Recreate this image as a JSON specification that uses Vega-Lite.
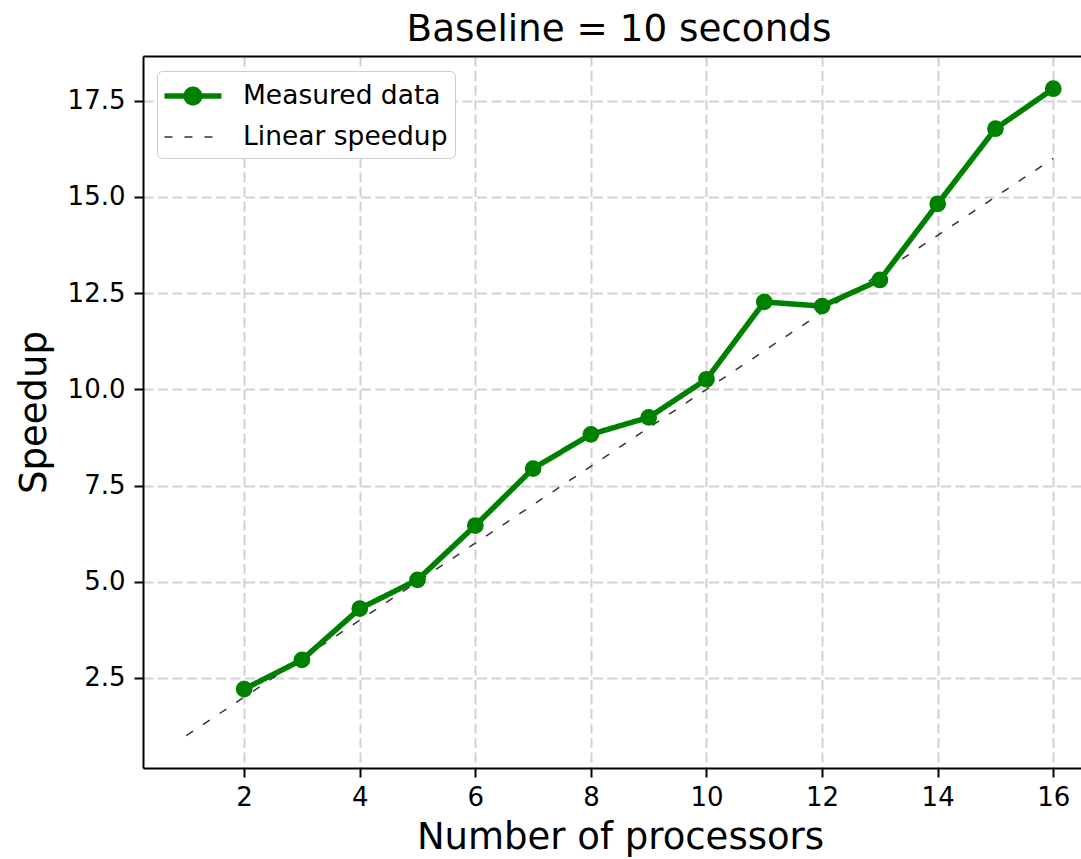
{
  "$schema": "https://vega.github.io/schema/vega-lite/v6.json",
  "width": 938,
  "height": 712,
  "autosize": {"type": "none"},
  "padding": {"left": 143, "top": 56, "right": 0, "bottom": 91},
  "background": "white",
  "title": {"text": "Baseline = 10 seconds", "fontSize": 37.3, "font": "DejaVu Sans", "fontWeight": "normal", "color": "black", "anchor": "middle", "dx": 7, "offset": 7},
  "config": {
    "view": {"stroke": null},
    "font": "DejaVu Sans",
    "axis": {
      "domainColor": "black", "domainWidth": 2,
      "tickColor": "black", "tickWidth": 2, "tickSize": 9,
      "labelFont": "DejaVu Sans", "labelFontSize": 26, "labelColor": "black", "labelPadding": 9,
      "titleFont": "DejaVu Sans", "titleFontSize": 37, "titleFontWeight": "normal", "titleColor": "black",
      "gridColor": "#d2d2d2", "gridDash": [10, 4.5], "gridWidth": 2
    },
    "legend": {
      "orient": "none", "legendX": 14, "legendY": 15,
      "fillColor": "white", "strokeColor": "#cccccc", "cornerRadius": 5,
      "padding": 7, "rowPadding": 7,
      "symbolSize": 900, "symbolOpacity": 1,
      "labelFont": "DejaVu Sans", "labelFontSize": 26.5, "labelColor": "black", "labelOffset": 43, "labelLimit": 400
    }
  },
  "datasets": {
    "measured": [
      {"processors": 2, "speedup": 2.21, "series": "Measured data"},
      {"processors": 3, "speedup": 2.97, "series": "Measured data"},
      {"processors": 4, "speedup": 4.30, "series": "Measured data"},
      {"processors": 5, "speedup": 5.05, "series": "Measured data"},
      {"processors": 6, "speedup": 6.46, "series": "Measured data"},
      {"processors": 7, "speedup": 7.94, "series": "Measured data"},
      {"processors": 8, "speedup": 8.83, "series": "Measured data"},
      {"processors": 9, "speedup": 9.27, "series": "Measured data"},
      {"processors": 10, "speedup": 10.26, "series": "Measured data"},
      {"processors": 11, "speedup": 12.27, "series": "Measured data"},
      {"processors": 12, "speedup": 12.16, "series": "Measured data"},
      {"processors": 13, "speedup": 12.84, "series": "Measured data"},
      {"processors": 14, "speedup": 14.82, "series": "Measured data"},
      {"processors": 15, "speedup": 16.77, "series": "Measured data"},
      {"processors": 16, "speedup": 17.81, "series": "Measured data"}
    ],
    "linear": [
      {"processors": 1, "speedup": 1, "series": "Linear speedup"},
      {"processors": 2, "speedup": 2, "series": "Linear speedup"},
      {"processors": 3, "speedup": 3, "series": "Linear speedup"},
      {"processors": 4, "speedup": 4, "series": "Linear speedup"},
      {"processors": 5, "speedup": 5, "series": "Linear speedup"},
      {"processors": 6, "speedup": 6, "series": "Linear speedup"},
      {"processors": 7, "speedup": 7, "series": "Linear speedup"},
      {"processors": 8, "speedup": 8, "series": "Linear speedup"},
      {"processors": 9, "speedup": 9, "series": "Linear speedup"},
      {"processors": 10, "speedup": 10, "series": "Linear speedup"},
      {"processors": 11, "speedup": 11, "series": "Linear speedup"},
      {"processors": 12, "speedup": 12, "series": "Linear speedup"},
      {"processors": 13, "speedup": 13, "series": "Linear speedup"},
      {"processors": 14, "speedup": 14, "series": "Linear speedup"},
      {"processors": 15, "speedup": 15, "series": "Linear speedup"},
      {"processors": 16, "speedup": 16, "series": "Linear speedup"}
    ]
  },
  "resolve": {"axis": {"x": "independent"}},
  "layer": [
    {
      "data": {"name": "linear"},
      "mark": {"type": "line"},
      "encoding": {
        "x": {"field": "processors", "type": "quantitative",
              "scale": {"domain": [0.25, 16.48], "nice": false, "zero": false},
              "axis": {"orient": "top", "labels": false, "ticks": false, "grid": false, "title": null, "domain": true}},
        "y": {"field": "speedup", "type": "quantitative",
              "scale": {"domain": [0.16, 18.66], "nice": false, "zero": false},
              "axis": {"values": [2.5, 5, 7.5, 10, 12.5, 15, 17.5], "format": ".1f", "title": "Speedup", "titlePadding": 14, "grid": true}},
        "color": {"field": "series", "type": "nominal",
                  "scale": {"domain": ["Measured data", "Linear speedup"], "range": ["#008000", "#333333"]},
                  "legend": {"title": null}},
        "strokeDash": {"field": "series", "type": "nominal",
                  "scale": {"domain": ["Measured data", "Linear speedup"], "range": [[1, 0], [8, 12]]},
                  "legend": {"title": null}},
        "strokeWidth": {"field": "series", "type": "ordinal",
                  "scale": {"domain": ["Measured data", "Linear speedup"], "range": [5.5, 1.5]},
                  "legend": {"title": null}}
      }
    },
    {
      "data": {"name": "measured"},
      "mark": {"type": "line", "strokeJoin": "round"},
      "encoding": {
        "x": {"field": "processors", "type": "quantitative",
              "axis": {"values": [2, 4, 6, 8, 10, 12, 14, 16], "format": "d", "title": "Number of processors", "titlePadding": 9, "labelPadding": 7, "titleX": 477, "grid": true}},
        "y": {"field": "speedup", "type": "quantitative"},
        "color": {"field": "series", "type": "nominal", "legend": {"title": null}},
        "strokeDash": {"field": "series", "type": "nominal", "legend": {"title": null}},
        "strokeWidth": {"field": "series", "type": "ordinal", "legend": {"title": null}}
      }
    },
    {
      "data": {"name": "linear"},
      "mark": {"type": "point", "filled": true, "opacity": 0},
      "encoding": {
        "x": {"field": "processors", "type": "quantitative", "axis": null},
        "y": {"field": "speedup", "type": "quantitative"},
        "color": {"field": "series", "type": "nominal", "legend": {"title": null}},
        "shape": {"field": "series", "type": "nominal",
                  "scale": {"domain": ["Measured data", "Linear speedup"], "range": ["M-1.17,0L2.63,0M0.28,0A0.45,0.45 0 1,0 1.18,0A0.45,0.45 0 1,0 0.28,0Z", "M-1.17,0L2.63,0"]},
                  "legend": {"title": null}}
      }
    },
    {
      "data": {"name": "measured"},
      "mark": {"type": "point", "filled": true, "opacity": 1, "size": 280, "color": "#008000"},
      "encoding": {
        "x": {"field": "processors", "type": "quantitative", "axis": null},
        "y": {"field": "speedup", "type": "quantitative"}
      }
    }
  ]
}
